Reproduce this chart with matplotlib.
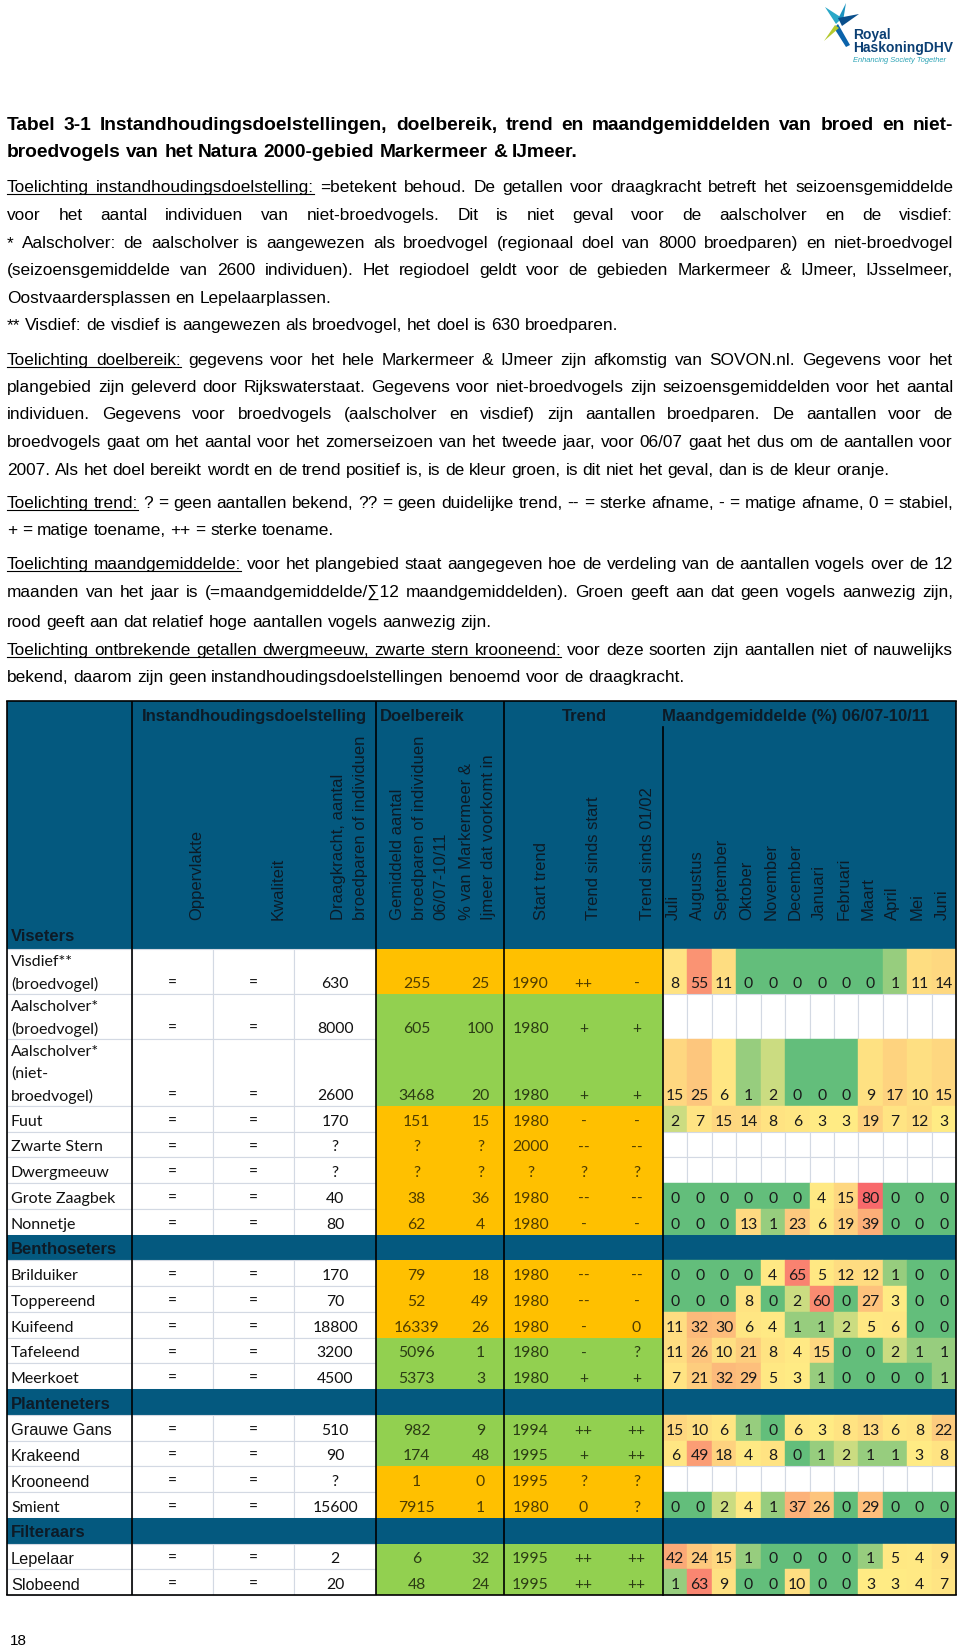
#!/usr/bin/env python3
# Tabel 3-1: instandhoudingsdoelen, doelbereik, trend en maandgemiddelden
# Markermeer & IJmeer, redrawn as a matplotlib figure (out.png).

import matplotlib
matplotlib.use("Agg")
import matplotlib.pyplot as plt
from matplotlib.patches import Rectangle, Polygon
import numpy as np

# -----------------------------------------------------------------------------
# Data
# -----------------------------------------------------------------------------

SPECIES = [
    "Visdief**\n(broedvogel)", "Aalscholver*\n(broedvogel)",
    "Aalscholver*\n(niet-\nbroedvogel)", "Fuut", "Zwarte Stern", "Dwergmeeuw",
    "Grote Zaagbek", "Nonnetje",
    "Brilduiker", "Toppereend", "Kuifeend", "Tafeleend", "Meerkoet",
    "Grauwe Gans", "Krakeend", "Krooneend", "Smient",
    "Lepelaar", "Slobeend",
]
# names typeset in Arial in the original (the rest is Calibri)
ARIAL_NAMES = ["Grauwe Gans", "Krakeend", "Krooneend", "Lepelaar", "Slobeend"]

GROUPS = ["Viseters", "Benthoseters", "Planteneters", "Filteraars"]
GROUP_START = [0, 8, 13, 17]

OPPERVLAKTE = ["=", "=", "=", "=", "=", "=", "=", "=", "=", "=",
               "=", "=", "=", "=", "=", "=", "=", "=", "="]
KWALITEIT = ["=", "=", "=", "=", "=", "=", "=", "=", "=", "=",
             "=", "=", "=", "=", "=", "=", "=", "=", "="]
DRAAGKRACHT = ["630", "8000", "2600", "170", "?", "?", "40", "80",
               "170", "70", "18800", "3200", "4500",
               "510", "90", "?", "15600", "2", "20"]
GEMIDDELD = ["255", "605", "3468", "151", "?", "?", "38", "62",
             "79", "52", "16339", "5096", "5373",
             "982", "174", "1", "7915", "6", "48"]
PCT_MARKERMEER = ["25", "100", "20", "15", "?", "?", "36", "4",
                  "18", "49", "26", "1", "3",
                  "9", "48", "0", "1", "32", "24"]
START_TREND = ["1990", "1980", "1980", "1980", "2000", "?", "1980", "1980",
               "1980", "1980", "1980", "1980", "1980",
               "1994", "1995", "1995", "1980", "1995", "1995"]
TREND_START = ["++", "+", "+", "-", "--", "?", "--", "-",
               "--", "--", "-", "-", "+",
               "++", "+", "?", "0", "++", "++"]
TREND_0102 = ["-", "+", "+", "-", "--", "?", "--", "-",
              "--", "-", "0", "?", "+",
              "++", "++", "?", "?", "++", "++"]
# doel bereikt en trend positief -> groen, anders oranje
DOEL_STATUS = ["oranje", "groen", "groen", "oranje", "oranje", "oranje", "oranje", "oranje",
               "oranje", "oranje", "oranje", "groen", "groen",
               "groen", "groen", "oranje", "oranje", "groen", "groen"]

MONTHS = ["Juli", "Augustus", "September", "Oktober", "November", "December",
          "Januari", "Februari", "Maart", "April", "Mei", "Juni"]
MONTH_PCT = [
    [8, 55, 11, 0, 0, 0, 0, 0, 0, 1, 11, 14],
    None,
    [15, 25, 6, 1, 2, 0, 0, 0, 9, 17, 10, 15],
    [2, 7, 15, 14, 8, 6, 3, 3, 19, 7, 12, 3],
    None,
    None,
    [0, 0, 0, 0, 0, 0, 4, 15, 80, 0, 0, 0],
    [0, 0, 0, 13, 1, 23, 6, 19, 39, 0, 0, 0],
    [0, 0, 0, 0, 4, 65, 5, 12, 12, 1, 0, 0],
    [0, 0, 0, 8, 0, 2, 60, 0, 27, 3, 0, 0],
    [11, 32, 30, 6, 4, 1, 1, 2, 5, 6, 0, 0],
    [11, 26, 10, 21, 8, 4, 15, 0, 0, 2, 1, 1],
    [7, 21, 32, 29, 5, 3, 1, 0, 0, 0, 0, 1],
    [15, 10, 6, 1, 0, 6, 3, 8, 13, 6, 8, 22],
    [6, 49, 18, 4, 8, 0, 1, 2, 1, 1, 3, 8],
    None,
    [0, 0, 2, 4, 1, 37, 26, 0, 29, 0, 0, 0],
    [42, 24, 15, 1, 0, 0, 0, 0, 1, 5, 4, 9],
    [1, 63, 9, 0, 0, 10, 0, 0, 3, 3, 4, 7],
]

# rotated column headers, one list of lines per column (left to right)
COLUMN_HEADERS = [
    ["Oppervlakte"], ["Kwaliteit"],
    ["Draagkracht, aantal", "broedparen of individuen"],
    ["Gemiddeld aantal", "broedparen of individuen", "06/07-10/11"],
    ["% van Markermeer &", "Ijmeer dat voorkomt in"],
    ["Start trend"], ["Trend sinds start"], ["Trend sinds 01/02"],
]
SECTION_HEADERS = ["Instandhoudingsdoelstelling", "Doelbereik", "Trend",
                   "Maandgemiddelde (%) 06/07-10/11"]

TITLE_LINES = [
    "Tabel 3-1 Instandhoudingsdoelstellingen, doelbereik, trend en maandgemiddelden van broed en niet-",
    "broedvogels van het Natura 2000-gebied Markermeer & IJmeer.",
]
# (underlined part, rest of line, justified?)
NOTE_LINES = [
    ("Toelichting instandhoudingsdoelstelling:", "=betekent behoud. De getallen voor draagkracht betreft het seizoensgemiddelde", True),
    ("", "voor het aantal individuen van niet-broedvogels. Dit is niet geval voor de aalscholver en de visdief:", True),
    ("", "* Aalscholver: de aalscholver is aangewezen als broedvogel (regionaal doel van 8000 broedparen) en niet-broedvogel", True),
    ("", "(seizoensgemiddelde van 2600 individuen). Het regiodoel geldt voor de gebieden Markermeer & IJmeer, IJsselmeer,", True),
    ("", "Oostvaardersplassen en Lepelaarplassen.", False),
    ("", "** Visdief: de visdief is aangewezen als broedvogel, het doel is 630 broedparen.", False),
    ("Toelichting doelbereik:", "gegevens voor het hele Markermeer & IJmeer zijn afkomstig van SOVON.nl. Gegevens voor het", True),
    ("", "plangebied zijn geleverd door Rijkswaterstaat. Gegevens voor niet-broedvogels zijn seizoensgemiddelden voor het aantal", True),
    ("", "individuen. Gegevens voor broedvogels (aalscholver en visdief) zijn aantallen broedparen. De aantallen voor de", True),
    ("", "broedvogels gaat om het aantal voor het zomerseizoen van het tweede jaar, voor 06/07 gaat het dus om de aantallen voor", True),
    ("", "2007. Als het doel bereikt wordt en de trend positief is, is de kleur groen, is dit niet het geval, dan is de kleur oranje.", False),
    ("Toelichting trend:", "? = geen aantallen bekend, ?? = geen duidelijke trend, -- = sterke afname, - = matige afname, 0 = stabiel,", True),
    ("", "+ = matige toename, ++ = sterke toename.", False),
    ("Toelichting maandgemiddelde:", "voor het plangebied staat aangegeven hoe de verdeling van de aantallen vogels over de 12", True),
    ("", "maanden van het jaar is (=maandgemiddelde/\u221112 maandgemiddelden). Groen geeft aan dat geen vogels aanwezig zijn,", True),
    ("", "rood geeft aan dat relatief hoge aantallen vogels aanwezig zijn.", False),
    ("Toelichting ontbrekende getallen dwergmeeuw, zwarte stern krooneend:", "voor deze soorten zijn aantallen niet of nauwelijks", True),
    ("", "bekend, daarom zijn geen instandhoudingsdoelstellingen benoemd voor de draagkracht.", False),
]

# -----------------------------------------------------------------------------
# Style / layout
# -----------------------------------------------------------------------------

W, H = 960, 1649
ARIAL = ["Liberation Sans", "DejaVu Sans"]
CALIBRI = ["Lato", "DejaVu Sans"]
HEAD_BLUE = "#04597f"
HEAD_TEXT = "#0d1b27"
ORANGE = "#ffc000"
GREEN = "#92d050"
GRID = "#d3d9e3"
STATUS_FILL = {"oranje": ORANGE, "groen": GREEN}
STATUS_TEXT = {"oranje": "#4f3c00", "groen": "#2b3c14"}

COL_X = [7, 132, 213, 294, 376, 457, 504, 557, 610, 663]
X_RIGHT = 956
TABLE_TOP = 702
DATA_TOP = 950
ROW_H = 25.74

TITLE_SIZE = 13.8
NOTE_SIZE = 12.4
HEAD_SIZE = 12
TITLE_Y = [130, 157]
NOTE_Y = [192, 220, 248, 275, 303, 330, 365, 392, 419, 447, 475,
          508, 535, 569, 597, 627, 655, 682]


def heat_color(v, vmid, vmax):
    """Excel-like 3-colour scale: green (0) - yellow (median) - red (max)."""
    g = np.array([99, 190, 123]) / 255.0
    y = np.array([255, 235, 132]) / 255.0
    r = np.array([248, 105, 107]) / 255.0
    if v <= vmid:
        t = v / vmid
        return tuple(g + (y - g) * t)
    t = (v - vmid) / (vmax - vmid)
    return tuple(y + (r - y) * t)


fig = plt.figure(figsize=(W / 100, H / 100), dpi=100)
ax = fig.add_axes([0, 0, 1, 1])
ax.set_xlim(0, W)
ax.set_ylim(H, 0)
ax.axis("off")
renderer = fig.canvas.get_renderer()


def draw_line(y, underlined, rest, justify, size, weight="normal"):
    """Place words one by one so that the line can be justified."""
    spec = [(w, True) for w in underlined.split()] + [(w, False) for w in rest.split()]
    arts, widths = [], []
    for word, _ in spec:
        t = ax.text(0, y, word, fontsize=size, fontweight=weight, family=ARIAL,
                    ha="left", va="baseline", color="black")
        arts.append(t)
        widths.append(t.get_window_extent(renderer).width)
    space = size * 0.278 * 100 / 72
    gap = (946 - sum(widths)) / (len(arts) - 1) if justify and len(arts) > 1 else space
    gap = max(gap, space * 0.6)
    x = 7
    ul = []
    for t, w, (_, u) in zip(arts, widths, spec):
        t.set_x(x)
        if u:
            ul.append((x, x + w))
        x += w + gap
    if ul:
        ax.plot([ul[0][0], ul[-1][1]], [y + 2.5, y + 2.5], color="black", lw=0.8)


# -----------------------------------------------------------------------------
# Logo
# -----------------------------------------------------------------------------

logo_parts = [
    ([(825, 8), (842, 19), (836, 25)], "#2aa8c8"),
    ([(838, 20), (846, 4), (843, 22)], "#1b93c0"),
    ([(838, 19), (859, 15), (842, 27)], "#0a4f8c"),
    ([(838, 25), (850, 46), (846, 48), (834, 29)], "#0b63ab"),
    ([(835, 26), (824, 42), (839, 29)], "#b4c92f"),
]
for pts, c in logo_parts:
    ax.add_patch(Polygon(pts, closed=True, color=c, lw=0))
ax.text(853, 35, "Royal", fontsize=10, fontweight="bold", family=ARIAL,
        color="#0b3f73", va="center", ha="left")
ax.text(853, 48, "HaskoningDHV", fontsize=10, fontweight="bold", family=ARIAL,
        color="#0b3f73", va="center", ha="left")
ax.text(853, 60, "Enhancing Society Together", fontsize=5.4, style="italic",
        family=ARIAL, color="#2aa3b5", va="center", ha="left")

# -----------------------------------------------------------------------------
# Title and notes
# -----------------------------------------------------------------------------

draw_line(TITLE_Y[0], "", TITLE_LINES[0], True, TITLE_SIZE, "bold")
draw_line(TITLE_Y[1], "", TITLE_LINES[1], False, TITLE_SIZE, "bold")
for yb, (u, rest, just) in zip(NOTE_Y, NOTE_LINES):
    draw_line(yb, u, rest, just, NOTE_SIZE)

# -----------------------------------------------------------------------------
# Table header
# -----------------------------------------------------------------------------

ax.add_patch(Rectangle((COL_X[0], TABLE_TOP), X_RIGHT - COL_X[0], DATA_TOP - TABLE_TOP,
                       facecolor=HEAD_BLUE, edgecolor="none"))
ax.text(254, 717, SECTION_HEADERS[0], fontsize=HEAD_SIZE, fontweight="bold", family=ARIAL,
        color=HEAD_TEXT, ha="center", va="center")
ax.text(380, 717, SECTION_HEADERS[1], fontsize=HEAD_SIZE, fontweight="bold", family=ARIAL,
        color=HEAD_TEXT, ha="left", va="center")
ax.text(584, 717, SECTION_HEADERS[2], fontsize=HEAD_SIZE, fontweight="bold", family=ARIAL,
        color=HEAD_TEXT, ha="center", va="center")
ax.text(662, 717, SECTION_HEADERS[3], fontsize=HEAD_SIZE, fontweight="bold", family=ARIAL,
        color=HEAD_TEXT, ha="left", va="center")

for k, lines in enumerate(COLUMN_HEADERS):
    right = COL_X[k + 2]
    n = len(lines)
    for j, txt in enumerate(lines):
        x = right - 16 - (n - 1 - j) * 21.5
        ax.text(x, 920, txt, rotation=90, fontsize=HEAD_SIZE, family=ARIAL,
                color=HEAD_TEXT, ha="center", va="bottom")

mw = (X_RIGHT - COL_X[-1]) / 12.0
month_x = [COL_X[-1] + mw * i for i in range(13)]
for i, m in enumerate(MONTHS):
    ax.text(month_x[i] + mw / 2 - 2, 920, m, rotation=90, fontsize=HEAD_SIZE, family=ARIAL,
            color=HEAD_TEXT, ha="center", va="bottom")

ax.text(11, 937, GROUPS[0], fontsize=HEAD_SIZE, fontweight="bold", family=ARIAL,
        color=HEAD_TEXT, ha="left", va="center")

# -----------------------------------------------------------------------------
# Table body
# -----------------------------------------------------------------------------

vals = np.array([v for v in MONTH_PCT if v is not None], dtype=float)
vmid = np.percentile(vals, 50)
vmax = vals.max()

y = DATA_TOP
for i, name in enumerate(SPECIES):
    if i in GROUP_START[1:]:
        g = GROUPS[GROUP_START.index(i)]
        ax.add_patch(Rectangle((COL_X[0], y), X_RIGHT - COL_X[0], ROW_H,
                               facecolor=HEAD_BLUE, edgecolor="none"))
        ax.text(11, y + ROW_H / 2 + 1, g, fontsize=HEAD_SIZE, fontweight="bold", family=ARIAL,
                color=HEAD_TEXT, ha="left", va="center")
        y += ROW_H

    lines = name.split("\n")
    h = ROW_H if len(lines) == 1 else 22 * len(lines) + 1
    bot = y + h
    ty = bot - 11

    # white part: name + instandhouding columns
    for c in range(4):
        ax.add_patch(Rectangle((COL_X[c], y), COL_X[c + 1] - COL_X[c], h,
                               facecolor="white", edgecolor=GRID, lw=0.8))
    arial = name in ARIAL_NAMES
    for j, ln in enumerate(lines):
        ax.text(11, ty - (len(lines) - 1 - j) * 22, ln, fontsize=11.7 if arial else 11.5,
                family=ARIAL if arial else CALIBRI, color="#111111", ha="left", va="center")
    for c, col in ((1, OPPERVLAKTE), (2, KWALITEIT), (3, DRAAGKRACHT)):
        ax.text((COL_X[c] + COL_X[c + 1]) / 2, ty, col[i], fontsize=11.3, family=CALIBRI,
                color="#111111", ha="center", va="center")

    # doelbereik + trend block
    st = DOEL_STATUS[i]
    ax.add_patch(Rectangle((COL_X[4], y), COL_X[-1] - COL_X[4], h,
                           facecolor=STATUS_FILL[st], edgecolor="none"))
    for c, col in ((4, GEMIDDELD), (5, PCT_MARKERMEER), (6, START_TREND),
                   (7, TREND_START), (8, TREND_0102)):
        ax.text((COL_X[c] + COL_X[c + 1]) / 2, ty, col[i], fontsize=11.3, family=CALIBRI,
                color=STATUS_TEXT[st], ha="center", va="center")

    # month heat map
    row = MONTH_PCT[i]
    for m in range(12):
        if row is None:
            ax.add_patch(Rectangle((month_x[m], y), mw, h, facecolor="white",
                                   edgecolor=GRID, lw=0.8))
            continue
        col = heat_color(row[m], vmid, vmax)
        ax.add_patch(Rectangle((month_x[m], y), mw, h, facecolor=col,
                               edgecolor=col, lw=0.3))
        ax.text(month_x[m] + mw / 2, ty, str(row[m]), fontsize=11.3, family=CALIBRI,
                color="#1a1a1a", ha="center", va="center")
    y = bot

TABLE_BOTTOM = y

# black frame lines
for xl in (COL_X[0], COL_X[1], COL_X[4], COL_X[6], X_RIGHT):
    ax.plot([xl, xl], [TABLE_TOP, TABLE_BOTTOM], color="black", lw=1.2, solid_capstyle="butt")
ax.plot([COL_X[-1], COL_X[-1]], [728, TABLE_BOTTOM], color="black", lw=1.2)
ax.plot([COL_X[0], X_RIGHT], [TABLE_TOP, TABLE_TOP], color="black", lw=1.2)
ax.plot([COL_X[0], X_RIGHT], [TABLE_BOTTOM, TABLE_BOTTOM], color="black", lw=1.2)

# page number
ax.text(10, 1641, "18", fontsize=11, family=ARIAL, color="black", ha="left", va="center")

fig.savefig("out.png", dpi=100)
